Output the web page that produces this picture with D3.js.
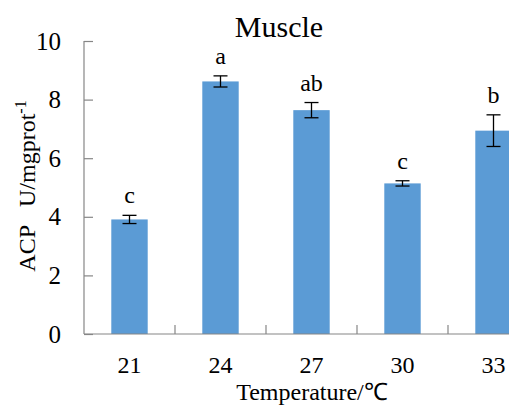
<!DOCTYPE html>
<html><head><meta charset="utf-8">
<script src="https://cdn.jsdelivr.net/npm/d3@7/dist/d3.min.js"></script>
<style>body{margin:0;background:#fff;overflow:hidden}
svg text{font-family:"Liberation Serif","Times New Roman",serif}</style>
</head><body>
<svg id="c" width="509" height="405"></svg>
<script>
const categories = ["21","24","27","30","33"];
const values = [3.91, 8.62, 7.64, 5.14, 6.94];
const errors = [0.14, 0.19, 0.26, 0.09, 0.54];
const letters = ["c","a","ab","c","b"];
const yTicks = [0,2,4,6,8,10];

const svg = d3.select("#c");
const x = d3.scaleBand().domain(categories).range([84, 539]).padding(0);
const y = d3.scaleLinear().domain([0,10]).range([334, 41]);
const bw = x.bandwidth()*0.4;
const axisCol = "#868686";

// y axis
const ya = svg.append("g").attr("transform","translate(84,0)")
  .call(d3.axisRight(y).tickValues(yTicks).tickSize(9).tickFormat(""));
ya.attr("font-family",null);
ya.select(".domain").attr("stroke",axisCol).attr("stroke-width",1.2).attr("d","M0,41V334");
ya.selectAll(".tick line").attr("stroke",axisCol).attr("stroke-width",1.2);
svg.append("g").selectAll("text").data(yTicks).join("text")
  .attr("x",61).attr("y",d=>y(d)).attr("dy","0.34em").attr("text-anchor","end")
  .attr("font-size",25).attr("fill","#000").text(d=>d);

// bars
svg.append("g").selectAll("rect").data(values).join("rect")
  .attr("x",(d,i)=>x(categories[i])+x.bandwidth()/2-bw/2)
  .attr("width",bw).attr("y",d=>y(d)).attr("height",d=>y(0)-y(d))
  .attr("fill","#5b9bd5");

// x axis
const xa = svg.append("g").attr("transform","translate(0,334)")
  .call(d3.axisTop(x).tickSize(0).tickFormat(""));
xa.select(".domain").attr("stroke",axisCol).attr("stroke-width",1.2).attr("d","M84,0H539");
const bounds = categories.slice(1).map(c=>x(c));
svg.append("g").selectAll("line").data(bounds).join("line")
  .attr("x1",d=>d).attr("x2",d=>d).attr("y1",334).attr("y2",325)
  .attr("stroke",axisCol).attr("stroke-width",1.2);
svg.append("g").selectAll("text").data(categories).join("text")
  .attr("x",d=>x(d)+x.bandwidth()/2).attr("y",373).attr("text-anchor","middle")
  .attr("font-size",24).attr("fill","#000").text(d=>d);

// error bars
const eg = svg.append("g").attr("stroke","#000").attr("stroke-width",1.3);
values.forEach((v,i)=>{
  const cx = x(categories[i])+x.bandwidth()/2;
  const t = y(v+errors[i]), b = y(v-errors[i]);
  eg.append("line").attr("x1",cx).attr("x2",cx).attr("y1",t).attr("y2",b);
  eg.append("line").attr("x1",cx-7).attr("x2",cx+7).attr("y1",t).attr("y2",t);
  eg.append("line").attr("x1",cx-7).attr("x2",cx+7).attr("y1",b).attr("y2",b);
});

// letters
svg.append("g").selectAll("text").data(letters).join("text")
  .attr("x",(d,i)=>x(categories[i])+x.bandwidth()/2)
  .attr("y",(d,i)=>y(values[i]+errors[i])-12)
  .attr("text-anchor","middle").attr("font-size",24)
  .attr("fill","#000").text(d=>d);

// title
svg.append("text").attr("x",279).attr("y",37).attr("text-anchor","middle")
  .attr("font-size",30).attr("fill","#000").text("Muscle");

// x title
svg.append("text").attr("x",312).attr("y",400).attr("text-anchor","middle")
  .attr("font-size",24).attr("fill","#000").text("Temperature/℃");

// y title
const yt = svg.append("text").attr("transform","translate(35,186) rotate(-90)")
  .attr("text-anchor","middle").attr("font-size",24).attr("fill","#000");
yt.append("tspan").text("ACP\u00a0\u00a0\u00a0U/mgprot");
yt.append("tspan").attr("font-size",16).attr("dy",-9).text("-1");
</script>
</body></html>
